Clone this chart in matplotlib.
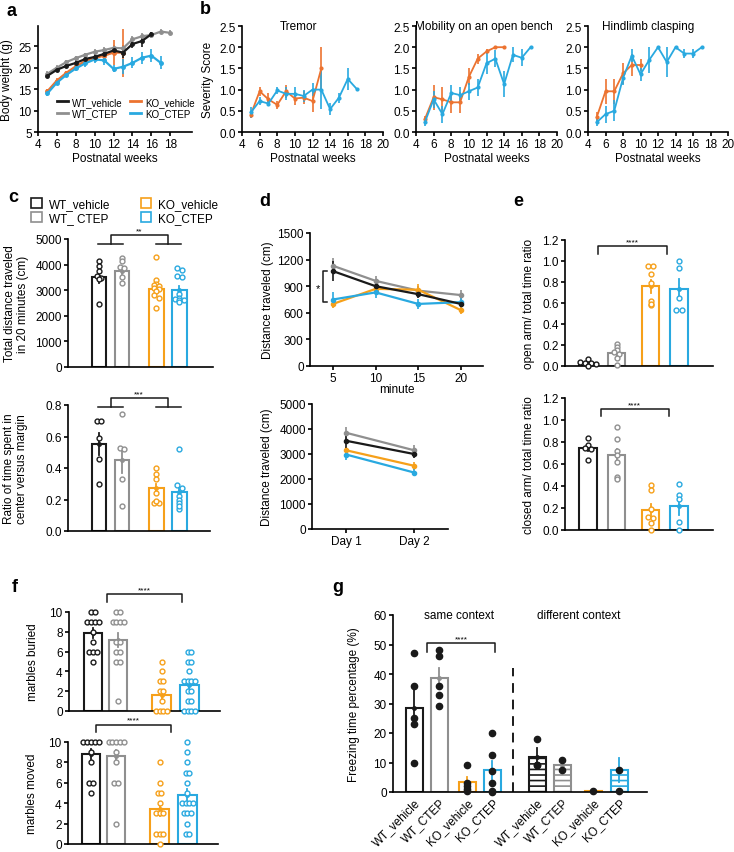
import numpy as np
import matplotlib
matplotlib.use('Agg')
import matplotlib.pyplot as plt
from matplotlib.patches import Patch
from matplotlib.lines import Line2D

plt.rcParams['font.family'] = ['Liberation Sans', 'DejaVu Sans']
plt.rcParams['font.size'] = 8.5
plt.rcParams['axes.linewidth'] = 1.2
plt.rcParams['xtick.major.width'] = 1.2
plt.rcParams['ytick.major.width'] = 1.2
plt.rcParams['xtick.major.size'] = 3
plt.rcParams['ytick.major.size'] = 3
plt.rcParams['xtick.major.pad'] = 1.5
plt.rcParams['ytick.major.pad'] = 1.5
plt.rcParams['hatch.linewidth'] = 1.2

BLACK = '#1a1a1a'
GRAY = '#8f8f8f'
ORANGE = '#f6a01a'
BLUE = '#29a9e0'
RED_OR = '#ec7330'
cols = [BLACK, GRAY, ORANGE, BLUE]
groups = ['WT_vehicle', 'WT_CTEP', 'KO_vehicle', 'KO_CTEP']

#%% data
# a: body weight
a_wk_wtv = np.arange(5, 17)
a_wtv = [18.1, 19.5, 20.4, 21.1, 22.0, 22.5, 23.2, 24.0, 23.5, 25.5, 26.2, 27.8]
a_wtv_e = [0.5, 0.6, 0.6, 0.6, 0.6, 0.6, 0.7, 0.8, 1.2, 1.0, 1.3, 0.6]
a_wk_wtc = np.arange(5, 19)
a_wtc = [18.6, 20.0, 21.3, 22.2, 23.0, 23.7, 24.1, 24.6, 24.5, 26.6, 27.3, 27.6, 28.4, 28.1]
a_wtc_e = [0.5, 0.5, 0.5, 0.5, 0.5, 0.6, 0.6, 0.7, 0.8, 0.8, 0.7, 0.6, 0.6, 0.6]
a_wk_kov = np.arange(5, 14)
a_kov = [14.5, 17.0, 18.8, 20.3, 21.5, 22.2, 22.8, 23.5, 23.5]
a_kov_e = [0.5, 0.5, 0.5, 0.5, 0.6, 0.7, 0.8, 3.0, 5.6]
a_wk_koc = np.arange(5, 18)
a_koc = [14.0, 16.5, 18.3, 19.8, 21.0, 21.9, 21.7, 19.7, 20.2, 21.1, 22.3, 22.8, 21.1]
a_koc_e = [0.5, 0.5, 0.5, 0.6, 0.8, 0.9, 1.0, 0.8, 1.8, 1.3, 1.4, 1.5, 1.5]

# b: severity scores (KO_vehicle, KO_CTEP)
b_titles = ['Tremor', 'Mobility on an open bench', 'Hindlimb clasping']
b_kov = [[0.41, 0.96, 0.77, 0.64, 0.96, 0.79, 0.81, 0.73, 1.5],
         [0.3, 0.82, 0.77, 0.7, 0.7, 1.3, 1.73, 1.9, 2.0, 2.0],
         [0.35, 0.96, 0.96, 1.38, 1.58, 1.58]]
b_kov_e = [[0.08, 0.1, 0.15, 0.1, 0.15, 0.15, 0.15, 0.25, 0.5],
           [0.08, 0.3, 0.3, 0.25, 0.25, 0.2, 0.12, 0.05, 0.0, 0.0],
           [0.12, 0.3, 0.3, 0.25, 0.25, 0.15]]
b_koc = [[0.46, 0.73, 0.67, 0.98, 0.9, 0.9, 0.85, 1.0, 1.0, 0.54, 0.81, 1.25, 1.02],
         [0.23, 0.77, 0.42, 0.92, 0.87, 0.96, 1.05, 1.62, 1.73, 1.13, 1.82, 1.75, 2.0],
         [0.23, 0.42, 0.5, 1.27, 1.8, 1.36, 1.7, 2.0, 1.65, 2.0, 1.85, 1.85, 2.0]]
b_koc_e = [[0.12, 0.1, 0.06, 0.08, 0.15, 0.15, 0.15, 0.15, 0.45, 0.15, 0.12, 0.25, 0.0],
           [0.08, 0.2, 0.2, 0.2, 0.2, 0.2, 0.2, 0.25, 0.2, 0.3, 0.18, 0.2, 0.0],
           [0.1, 0.2, 0.25, 0.15, 0.15, 0.15, 0.3, 0.0, 0.35, 0.0, 0.1, 0.1, 0.0]]

# c: open field
c_tot_mean = [3500, 3750, 3050, 3020]
c_tot_sem = [200, 130, 140, 160]
c_tot_pts = [[4150, 3950, 3750, 3550, 3480, 3450, 2450],
             [4250, 4150, 3900, 3850, 3500, 3300],
             [4300, 3400, 3250, 3200, 3150, 3100, 3050, 2950, 2800, 2700, 2300],
             [3850, 3800, 3550, 3500, 2850, 2700, 2650, 2600, 2600, 2550]]
c_rat_mean = [0.55, 0.45, 0.27, 0.25]
c_rat_sem = [0.07, 0.08, 0.03, 0.04]
c_rat_pts = [[0.70, 0.70, 0.59, 0.46, 0.30],
             [0.74, 0.53, 0.52, 0.33, 0.16],
             [0.40, 0.36, 0.33, 0.24, 0.18, 0.18, 0.19],
             [0.52, 0.29, 0.27, 0.22, 0.20, 0.18, 0.14, 0.16]]

# d: distance per 5 min, per day
d_min = [5, 10, 15, 20]
d_5min = [[1070, 900, 810, 700], [1130, 960, 850, 800],
          [700, 870, 860, 630], [750, 830, 700, 720]]
d_5min_e = [[110, 60, 40, 40], [90, 50, 50, 60], [50, 40, 60, 40], [80, 60, 60, 50]]
d_days = ['Day 1', 'Day 2']
d_day = [[3530, 3000], [3850, 3150], [3150, 2530], [2980, 2260]]
d_day_e = [[300, 150], [250, 200], [150, 150], [200, 150]]

# e: elevated plus maze
e_open_mean = [0.03, 0.12, 0.76, 0.73]
e_open_sem = [0.015, 0.025, 0.06, 0.1]
e_open_pts = [[0.07, 0.04, 0.03, 0.03, 0.02, 0.0],
              [0.21, 0.18, 0.15, 0.13, 0.11, 0.08, 0.01],
              [0.95, 0.95, 0.88, 0.79, 0.62, 0.58, 0.59],
              [1.0, 0.93, 0.65, 0.53, 0.53]]
e_closed_mean = [0.75, 0.68, 0.18, 0.22]
e_closed_sem = [0.03, 0.06, 0.06, 0.08]
e_closed_pts = [[0.84, 0.77, 0.75, 0.74, 0.64],
                [0.94, 0.83, 0.72, 0.68, 0.62, 0.48, 0.46],
                [0.41, 0.36, 0.19, 0.12, 0.11, 0.06, 0.0],
                [0.42, 0.32, 0.28, 0.07, 0.0]]

# f: marbles
f_bur_mean = [7.9, 7.2, 1.6, 2.6]
f_bur_sem = [0.5, 0.7, 0.5, 0.5]
f_bur_pts = [[10, 10, 9, 9, 9, 9, 8, 7, 6, 6, 6, 5],
             [10, 10, 9, 9, 9, 9, 7, 7, 6, 6, 5, 5, 1],
             [5, 4, 3, 3, 2, 2, 1, 0, 0, 0, 0],
             [6, 6, 5, 5, 4, 3, 3, 3, 3, 2, 2, 1, 1, 0, 0, 0, 0]]
f_mov_mean = [8.8, 8.6, 3.4, 4.8]
f_mov_sem = [0.5, 0.6, 0.7, 0.6]
f_mov_pts = [[10, 10, 10, 10, 10, 9, 8, 6, 6, 5],
             [10, 10, 10, 10, 10, 9, 8, 6, 6, 2],
             [8, 6, 5, 5, 4, 3, 3, 3, 1, 1, 1, 0],
             [10, 9, 8, 7, 7, 6, 5, 4, 4, 4, 4, 3, 3, 3, 2, 1, 1]]

# g: fear conditioning
g_labels = groups + groups
g_mean = [28.5, 38.5, 3.5, 7.5, 12.0, 9.3, 0.3, 7.5]
g_sem = [6.0, 3.5, 1.5, 3.0, 3.0, 1.5, 0.2, 4.0]
g_pts = [[47, 36, 25, 23, 10], [48, 46, 36, 33, 29], [9, 3, 2, 1, 0.5],
         [20, 12.5, 7, 3, 0.5, 0], [18, 9, 9], [11, 7.5], [0.3], [7.5, 0.2]]

#%% layout helpers
W, H = 734, 853
fig = plt.figure(figsize=(W / 100, H / 100), dpi=100)


def box(l, t, r, b):
    ax = fig.add_axes([l / W, 1 - b / H, (r - l) / W, (b - t) / H])
    ax.spines[['top', 'right']].set_visible(False)
    return ax


def letter(x, y, s):
    fig.text(x / W, 1 - y / H, s, fontsize=13, fontweight='bold', ha='center', va='center')


def offsets(vals, dx, dy):
    vals = np.asarray(vals, float)
    bins = np.round(vals / dy)
    off = np.zeros(len(vals))
    for b in np.unique(bins):
        idx = np.where(bins == b)[0]
        off[idx] = (np.arange(len(idx)) - (len(idx) - 1) / 2) * dx
    return off


def bars(ax, pos, means, sems, pts, colors, dx, dy, width=0.62, hatch=None,
         filled=False):
    for i, (x, m, s, p, c) in enumerate(zip(pos, means, sems, pts, colors)):
        h = hatch[i] if hatch else None
        ax.bar(x, m, width, facecolor='white', edgecolor=c, lw=1.5, hatch=h, zorder=1)
        ax.plot([x, x], [m - s, m + s], color=c, lw=1.3, zorder=3)
        ax.plot(x, m, 'o', color=c, ms=2.5, zorder=3)
        xo = x + offsets(p, dx, dy)
        if filled:
            ax.plot(xo, p, 'o', color=BLACK, ms=4.5, ls='none', zorder=4, clip_on=False)
        else:
            ax.plot(xo, p, 'o', mfc='white', mec=c, mew=1.0, ms=3.5, ls='none',
                    zorder=4, clip_on=False)
    ax.set_xticks([])


def bracket(ax, x1, x2, y0, y1, txt, ty):
    ax.plot([x1, x1, x2, x2], [y0, y1, y1, y0], color=BLACK, lw=1.1, clip_on=False)
    ax.text((x1 + x2) / 2, ty, txt, ha='center', va='bottom', fontsize=6)


def group_bracket(ax, seg1, seg2, v1, v2, y0, y1, txt, ty):
    ax.plot(seg1, [y0, y0], color=BLACK, lw=1.1, clip_on=False)
    ax.plot(seg2, [y0, y0], color=BLACK, lw=1.1, clip_on=False)
    ax.plot([v1, v1, v2, v2], [y0, y1, y1, y0], color=BLACK, lw=1.1, clip_on=False)
    ax.text((v1 + v2) / 2, ty, txt, ha='center', va='bottom', fontsize=6)


def err_line(ax, x, y, e, c, lw=1.6, ms=2.5):
    ax.errorbar(x, y, yerr=e, color=c, lw=lw, elinewidth=1.2, capsize=0,
                marker='o', ms=ms, clip_on=False)


#%% a
ax = box(38, 27, 192, 133)
err_line(ax, a_wk_wtc, a_wtc, a_wtc_e, GRAY)
err_line(ax, a_wk_kov, a_kov, a_kov_e, RED_OR)
err_line(ax, a_wk_koc, a_koc, a_koc_e, BLUE)
err_line(ax, a_wk_wtv, a_wtv, a_wtv_e, BLACK)
ax.set_xlim(4, 20.3)
ax.set_ylim(5, 29.7)
ax.set_xticks(range(4, 19, 2))
ax.set_yticks(range(5, 26, 5))
ax.set_xlabel('Postnatal weeks', labelpad=1)
ax.set_ylabel('Body weight (g)')
ax.yaxis.set_label_coords(-0.16, 0.5)
hs = [Line2D([], [], color=c, lw=2) for c in [BLACK, GRAY, RED_OR, BLUE]]
ax.legend(hs, ['WT_vehicle', 'WT_CTEP', 'KO_vehicle', 'KO_CTEP'], ncol=2,
          frameon=False, fontsize=7, loc='upper left', bbox_to_anchor=(0.1, 0.37),
          handlelength=1.1, handletextpad=0.4, columnspacing=0.8, labelspacing=0.2,
          borderaxespad=0)
letter(12, 12, 'a')

#%% b
b_boxes = [(242, 27, 383, 133), (416, 27, 557, 133), (588, 27, 728, 133)]
b_tx = [0.40, 0.48, 0.43]
for k in range(3):
    ax = box(*b_boxes[k])
    err_line(ax, np.arange(5, 5 + len(b_kov[k])), b_kov[k], b_kov_e[k], RED_OR, lw=1.3, ms=2)
    err_line(ax, np.arange(5, 5 + len(b_koc[k])), b_koc[k], b_koc_e[k], BLUE, lw=1.3, ms=2)
    ax.set_xlim(4, 20)
    ax.set_ylim(0, 2.5)
    ax.set_xticks(range(4, 21, 2))
    ax.set_yticks(np.arange(0, 2.6, 0.5))
    ax.set_xlabel('Postnatal weeks', labelpad=1)
    ax.text(b_tx[k], 1.0, b_titles[k], transform=ax.transAxes, ha='center', va='center',
            fontsize=8.5)
    if k == 0:
        ax.set_ylabel('Severity Score')
        ax.yaxis.set_label_coords(-0.2, 0.5)
letter(205, 10, 'b')

#%% c
c_pos = [0, 1, 2.5, 3.5]
ax = box(68, 240, 213, 368)
bars(ax, c_pos, c_tot_mean, c_tot_sem, c_tot_pts, cols, 0.2, 110)
ax.set_xlim(-1.35, 4.96)
ax.set_ylim(0, 5000)
ax.set_yticks(range(0, 5001, 1000))
ax.set_ylabel('Total distance traveled\nin 20 minutes (cm)', linespacing=1.1)
ax.yaxis.set_label_coords(-0.27, 0.5)
group_bracket(ax, [-0.05, 1.05], [2.5, 3.55], 0.5, 3.0, 4800, 5150, '**', 5180)

ax = box(68, 406, 210, 532)
bars(ax, c_pos, c_rat_mean, c_rat_sem, c_rat_pts, cols, 0.2, 0.02)
ax.set_xlim(-1.35, 4.83)
ax.set_ylim(0, 0.8)
ax.set_yticks(np.arange(0, 0.81, 0.2))
ax.set_ylabel('Ratio of time spent in\ncenter versus margin', linespacing=1.1)
ax.yaxis.set_label_coords(-0.28, 0.5)
group_bracket(ax, [-0.05, 1.05], [2.5, 3.55], 0.5, 3.0, 0.787, 0.844, '***', 0.85)

hs = [Patch(facecolor='white', edgecolor=c, lw=1.2) for c in cols]
fig.legend(hs, ['WT_vehicle', 'WT_ CTEP', 'KO_vehicle', 'KO_CTEP'], ncol=2,
           frameon=False, fontsize=8.5, loc='upper left',
           bbox_to_anchor=(31 / W, 1 - 199 / H), handlelength=0.9, handleheight=0.9,
           handletextpad=0.6, columnspacing=2.6, labelspacing=0.15, borderaxespad=0,
           borderpad=0)
letter(13, 198, 'c')

#%% d
ax = box(310, 234, 483, 367)
for i in [1, 2, 3, 0]:
    err_line(ax, d_min, d_5min[i], d_5min_e[i], cols[i], lw=1.6, ms=3)
ax.set_xlim(2.3, 22.6)
ax.set_ylim(0, 1500)
ax.set_xticks(d_min)
ax.set_yticks(range(0, 1501, 300))
ax.set_xlabel('minute', labelpad=-1)
ax.set_ylabel('Distance traveled (cm)')
ax.yaxis.set_label_coords(-0.21, 0.5)
ax.plot([4.3, 3.8, 3.8, 4.3], [1070, 1070, 720, 720], color=BLACK, lw=1.1, clip_on=False)
ax.text(3.2, 880, '*', ha='center', va='center', fontsize=8)

ax = box(312, 405, 448, 530)
for i in [1, 2, 3, 0]:
    err_line(ax, [0, 1], d_day[i], d_day_e[i], cols[i], lw=1.6, ms=3)
ax.set_xlim(-0.5, 1.5)
ax.set_ylim(0, 5000)
ax.set_xticks([0, 1])
ax.set_xticklabels(d_days)
ax.set_yticks(range(0, 5001, 1000))
ax.set_ylabel('Distance traveled (cm)')
ax.yaxis.set_label_coords(-0.29, 0.5)
letter(265, 202, 'd')

#%% e
e_pos = [0, 1, 2.2, 3.2]
ax = box(565, 241, 713, 367)
bars(ax, e_pos, e_open_mean, e_open_sem, e_open_pts, cols, 0.19, 0.03)
ax.set_xlim(-0.81, 4.39)
ax.set_ylim(0, 1.2)
ax.set_yticks(np.arange(0, 1.21, 0.2))
ax.set_ylabel('open arm/ total time ratio')
ax.yaxis.set_label_coords(-0.2, 0.5)
bracket(ax, 0.35, 2.77, 1.07, 1.14, '****', 1.15)

ax = box(565, 399, 713, 531)
bars(ax, e_pos, e_closed_mean, e_closed_sem, e_closed_pts, cols, 0.19, 0.03)
ax.set_xlim(-0.81, 4.39)
ax.set_ylim(0, 1.2)
ax.set_yticks(np.arange(0, 1.21, 0.2))
ax.set_ylabel('closed arm/ total time ratio')
ax.yaxis.set_label_coords(-0.2, 0.5)
bracket(ax, 0.45, 2.84, 1.04, 1.10, '****', 1.11)
letter(518, 202, 'e')

#%% f
f_pos = [0, 1, 2.7, 3.8]
ax = box(69, 613, 220, 712)
bars(ax, f_pos, f_bur_mean, f_bur_sem, f_bur_pts, cols, 0.15, 1, width=0.72)
ax.set_xlim(-0.94, 5.0)
ax.set_ylim(0, 10)
ax.set_yticks(range(0, 11, 2))
ax.set_ylabel('marbles buried')
ax.yaxis.set_label_coords(-0.2, 0.5)
bracket(ax, 0.55, 3.5, 11.0, 11.8, '****', 11.9)

ax = box(68, 743, 218, 845)
bars(ax, f_pos, f_mov_mean, f_mov_sem, f_mov_pts, cols, 0.15, 1, width=0.72)
ax.set_xlim(-0.9, 5.0)
ax.set_ylim(0, 10)
ax.set_yticks(range(0, 11, 2))
ax.set_ylabel('marbles moved')
ax.yaxis.set_label_coords(-0.2, 0.5)
bracket(ax, 0.2, 3.15, 11.0, 11.7, '****', 11.8)
letter(15, 588, 'f')

#%% g
g_pos = [0, 1, 2.12, 3.12, 4.92, 5.92, 7.16, 8.2]
ax = box(393, 616, 647, 793)
bars(ax, g_pos, g_mean, g_sem, g_pts, cols + cols, 0.0, 1, width=0.68,
     hatch=[None] * 4 + ['---'] * 4, filled=True)
ax.set_xlim(-0.84, 9.32)
ax.set_ylim(0, 60)
ax.set_yticks(range(0, 61, 10))
ax.set_xticks(g_pos)
ax.set_xticklabels(g_labels, rotation=45, ha='right', rotation_mode='anchor')
ax.tick_params(axis='x', length=0, pad=3)
ax.plot([3.96, 3.96], [0, 42], color=BLACK, lw=1.4, ls=(0, (5, 3.5)))
ax.set_ylabel('Freezing time percentage (%)')
ax.yaxis.set_label_coords(-0.13, 0.5)
ax.text(1.8, 60, 'same context', ha='center', va='center', fontsize=8.5)
ax.text(6.6, 60, 'different context', ha='center', va='center', fontsize=8.5)
bracket(ax, 0.52, 3.24, 47.5, 50.5, '****', 50.8)
letter(338, 588, 'g')

fig.savefig('out.png', dpi=100)
